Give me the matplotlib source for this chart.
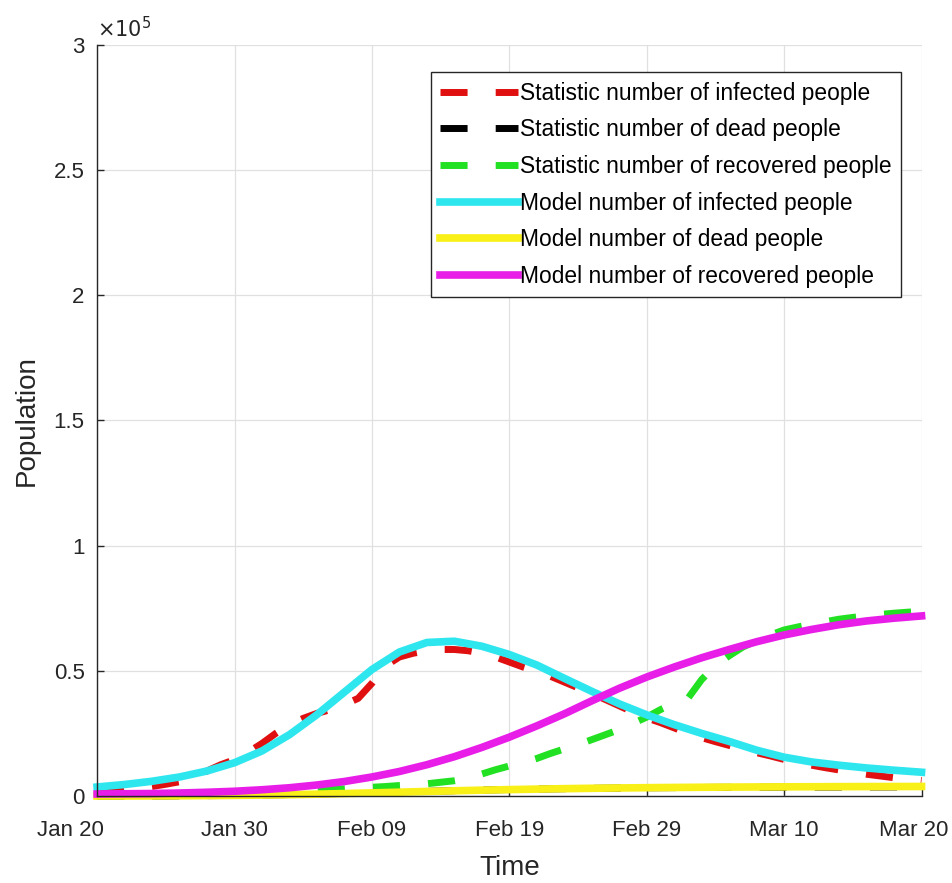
import datetime as dt

import matplotlib
matplotlib.use("Agg")
import matplotlib.pyplot as plt
import matplotlib.dates as mdates
import matplotlib.transforms as mtransforms
from matplotlib.ticker import FuncFormatter

plt.rcParams["font.family"] = ["Liberation Sans", "DejaVu Sans"]

start = dt.date(2020, 1, 20)

# daily reported figures, Jan 20 .. Mar 20
stat_infected = [1500, 1800, 2300, 3000, 3800, 4700, 5700, 7500, 10000, 12500,
                 14500, 17500, 21000, 25000, 28500, 31000, 33000, 34500, 36500, 39000,
                 45000, 52000, 55500, 57000, 58000, 58500, 58500, 58000, 57000, 55500,
                 53500, 51500, 49800, 47800, 45500, 43200, 41000, 38500, 36000, 33500,
                 31200, 29300, 27200, 25000, 23300, 21700, 20200, 18700, 17300, 16000,
                 14600, 13300, 12300, 11300, 10400, 9500, 8700, 8000, 7300, 6700, 6200]
stat_dead = [10, 15, 20, 30, 45, 60, 90, 120, 160, 200,
             250, 330, 420, 510, 600, 700, 810, 920, 1040, 1170,
             1300, 1440, 1580, 1720, 1860, 2000, 2130, 2250, 2370, 2490,
             2600, 2690, 2770, 2850, 2930, 3000, 3060, 3120, 3180, 3240,
             3300, 3330, 3360, 3390, 3420, 3450, 3470, 3490, 3510, 3530,
             3550, 3560, 3570, 3580, 3590, 3600, 3610, 3620, 3630, 3640, 3650]
stat_recovered = [30, 35, 50, 60, 100, 140, 200, 280, 380, 500,
                  650, 850, 1100, 1400, 1700, 2000, 2300, 2600, 2900, 3200,
                  3500, 3800, 4200, 4500, 4900, 5500, 6100, 7000, 8800, 10500,
                  12000, 13400, 15000, 17000, 18800, 20500, 22500, 24500, 26500, 29000,
                  31500, 34500, 37000, 39000, 46500, 52000, 56000, 59500, 62000, 64300,
                  66300, 67500, 68600, 69600, 70600, 71300, 72000, 72500, 73000, 73400, 73800]

# model output, every second day
model_days = list(range(0, 61, 2))
model_infected = [3600, 4600, 5900, 7600, 10000, 13300, 18000, 24500, 32500, 41500,
                  50500, 57500, 61300, 61800, 59800, 56500, 52300, 47000, 41800, 36800,
                  32400, 28500, 25000, 21800, 18300, 15500, 13600, 12300, 11200, 10300, 9500]
model_dead = [0, 20, 50, 100, 170, 260, 380, 540, 740, 980,
              1250, 1530, 1820, 2090, 2340, 2560, 2760, 2940, 3090, 3220,
              3330, 3420, 3500, 3570, 3620, 3670, 3710, 3740, 3770, 3790, 3810]
model_recovered = [800, 900, 1000, 1200, 1500, 1900, 2500, 3300, 4400, 5800,
                   7600, 9800, 12500, 15700, 19400, 23500, 28000, 32800, 38000, 43000,
                   47500, 51500, 55200, 58500, 61600, 64300, 66500, 68400, 69900, 71000, 71900]

stat_dates = [start + dt.timedelta(days=i) for i in range(len(stat_infected))]
model_dates = [start + dt.timedelta(days=d) for d in model_days]

fig = plt.figure(figsize=(9.52, 8.83), dpi=100)
ax = fig.add_axes([0.102, 0.0985, 0.866, 0.851])

dash_lw = 5.0
model_lw = 5.5
dash = (3.9, 4.05)

ax.plot(stat_dates, stat_infected, color="#e01010", lw=dash_lw, dashes=dash,
        label="Statistic number of infected people", clip_on=False)
ax.plot(stat_dates, stat_dead, color="black", lw=dash_lw, dashes=dash,
        label="Statistic number of dead people", clip_on=False)
ax.plot(stat_dates, stat_recovered, color="#22e022", lw=dash_lw, dashes=dash,
        label="Statistic number of recovered people", clip_on=False)
ax.plot(model_dates, model_infected, color="#2ee6ee", lw=model_lw,
        label="Model number of infected people", clip_on=False)
ax.plot(model_dates, model_dead, color="#f8f016", lw=model_lw,
        label="Model number of dead people", clip_on=False)
ax.plot(model_dates, model_recovered, color="#e81ee8", lw=model_lw,
        label="Model number of recovered people", clip_on=False)

ax.set_xlim(start, start + dt.timedelta(days=60))
ax.set_ylim(0, 3e5)
ax.set_xticks([start + dt.timedelta(days=10 * k) for k in range(7)])
ax.xaxis.set_major_formatter(mdates.DateFormatter("%b %d"))
ax.set_yticks([k * 0.5e5 for k in range(7)])
ax.yaxis.set_major_formatter(FuncFormatter(lambda v, p: f"{v / 1e5:g}"))

ax.grid(True, color="#e0e0e0", lw=0.9)
ax.set_axisbelow(True)
for side in ("top", "right"):
    ax.spines[side].set_visible(False)
for side in ("left", "bottom"):
    ax.spines[side].set_color("#262626")
    ax.spines[side].set_linewidth(1.0)
ax.tick_params(direction="in", length=5, width=1.0, color="#262626",
               labelsize=16, labelcolor="#262626")
ax.tick_params(axis="x", pad=17)
ax.tick_params(axis="y", pad=9)

# nudge the outer date labels so they sit like the original figure
fig.canvas.draw()
xlabels = ax.get_xticklabels()
for lbl, shift in ((xlabels[0], -27), (xlabels[-1], -8)):
    lbl.set_transform(lbl.get_transform() +
                      mtransforms.ScaledTranslation(shift / 100, 0, fig.dpi_scale_trans))

ax.set_xlabel("Time", fontsize=20, color="#262626", labelpad=10)
ax.set_ylabel("Population", fontsize=20, color="#262626", labelpad=10)
ax.text(0.0, 1.005, r"$\times10^{5}$", transform=ax.transAxes, fontsize=15,
        color="#262626", ha="left", va="bottom")

leg = ax.legend(loc="upper right", bbox_to_anchor=(0.975, 0.963), borderaxespad=0,
                fontsize=16.4, handlelength=3.4, handletextpad=0.1,
                labelspacing=0.6, borderpad=0.4, fancybox=False,
                framealpha=1, edgecolor="#262626")
leg.get_frame().set_linewidth(1.0)

fig.savefig("out.png", dpi=100)
